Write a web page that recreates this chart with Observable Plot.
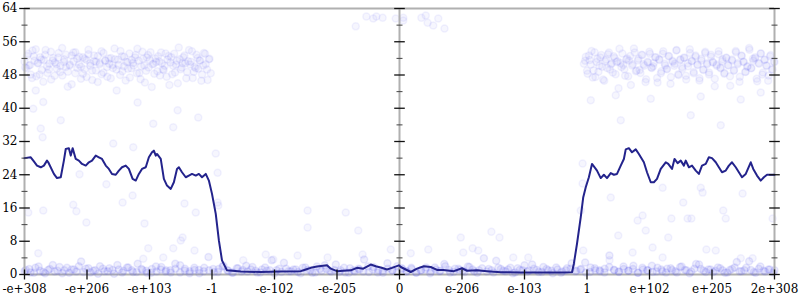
<!DOCTYPE html>
<html>
<head>
<meta charset="utf-8">
<script src="https://cdn.jsdelivr.net/npm/d3@7"></script>
<script src="https://cdn.jsdelivr.net/npm/@observablehq/plot@0.6"></script>
<style>
  html, body { margin: 0; padding: 0; background: #fff; }
  #chart svg, #chart svg text { font-family: "DejaVu Serif", serif !important; font-size: 12px; }
</style>
</head>
<body>
<div id="chart"></div>
<script>
// ---- tick positions and labels ----
const xTicks = [-6, -5, -4, -3, -2, -1, 0, 1, 2, 3, 4, 5, 6];
const xTickLabels = ["-e+308", "-e+206", "-e+103", "-1", "-e-102", "-e-205", "0", "e-206", "e-103", "1", "e+102", "e+205", "2e+308"];
const yMajor = [0, 8, 16, 24, 32, 40, 48, 56, 64];
const yMinor = [4, 12, 20, 28, 36, 44, 52, 60];
const axisLinesX = [-6, 0, 6];

// ---- moving-average line ----
const lineX = [-6.00,-5.90,-5.85,-5.80,-5.74,-5.69,-5.64,-5.62,-5.53,-5.48,-5.42,-5.37,-5.34,-5.29,-5.26,-5.23,-5.18,-5.13,-5.08,-5.02,-4.97,-4.92,-4.86,-4.81,-4.76,-4.70,-4.65,-4.60,-4.54,-4.49,-4.44,-4.38,-4.33,-4.27,-4.22,-4.17,-4.12,-4.06,-4.01,-3.96,-3.93,-3.90,-3.88,-3.82,-3.77,-3.72,-3.66,-3.61,-3.56,-3.53,-3.48,-3.42,-3.37,-3.32,-3.26,-3.21,-3.16,-3.10,-3.05,-3.00,-2.94,-2.89,-2.84,-2.76,-2.54,-2.22,-1.90,-1.58,-1.50,-1.42,-1.32,-1.16,-1.10,-1.00,-0.90,-0.78,-0.68,-0.58,-0.46,-0.38,-0.30,-0.20,-0.12,-0.01,0.02,0.18,0.28,0.39,0.50,0.60,0.70,0.87,1.00,1.08,1.24,1.40,1.62,1.94,2.26,2.58,2.76,2.79,2.84,2.90,2.94,2.98,3.03,3.08,3.14,3.16,3.22,3.27,3.32,3.38,3.43,3.48,3.54,3.59,3.62,3.67,3.72,3.78,3.83,3.91,3.96,4.02,4.07,4.12,4.18,4.26,4.30,4.36,4.40,4.45,4.50,4.55,4.58,4.63,4.68,4.74,4.79,4.84,4.90,4.95,5.00,5.06,5.11,5.16,5.22,5.27,5.32,5.38,5.43,5.48,5.54,5.62,5.66,5.72,5.78,5.83,5.88,5.96,6.00];
const lineY = [28.0,28.2,27.2,26.2,25.8,26.2,27.4,27.0,24.2,23.2,23.4,27.4,30.2,30.4,28.6,30.4,27.8,27.4,26.6,26.2,27.0,27.4,28.6,28.2,27.8,26.2,25.4,24.2,24.0,25.0,25.8,26.2,25.4,23.0,22.6,24.2,25.4,25.8,28.2,29.4,29.8,28.6,29.0,27.8,23.0,21.4,20.6,22.2,25.4,25.8,24.6,23.4,23.8,24.2,23.8,24.2,23.4,24.2,22.6,19.4,14.6,8.2,3.4,1.0,0.7,0.6,0.7,0.8,1.2,1.6,1.9,2.2,1.4,0.8,0.9,1.0,1.6,1.4,2.4,2.0,1.7,1.2,1.6,2.2,1.8,0.6,1.4,2.0,1.8,1.1,1.1,0.8,1.5,0.9,1.0,0.8,0.55,0.5,0.5,0.5,0.55,2.6,7.4,13.8,18.6,21.0,23.4,26.6,25.4,25.0,23.2,24.0,23.2,24.4,24.0,24.2,26.2,27.8,30.1,30.4,29.4,30.1,29.0,27.0,24.6,22.2,22.2,23.0,25.4,27.0,26.6,25.4,27.8,26.8,27.4,26.2,27.4,25.8,26.2,25.0,24.2,26.2,26.6,28.2,28.0,27.0,25.8,24.6,25.0,26.2,27.0,25.8,24.6,23.4,24.2,27.0,25.4,23.8,22.6,23.4,24.0,24.0,24.0];

// ---- dense sample bands (regularly sampled over their x range) ----
const topLeftRange = [-6, -3.02];
const topLeftY = [51.2,49.6,53.1,50.4,47.3,52.5,54.2,50.8,48.1,51.7,46.4,52.9,50.1,49.3,53.6,51.5,47.8,50.6,52.2,48.7,54.5,51.1,49.9,45.2,50.3,52.7,53.4,48.4,51.9,50.5,47.1,52.3,49.4,51.6,54.1,50.2,46.8,51.3,49.1,52.6,50.9,48.2,53.3,51.4,47.6,50.7,52.1,49.7,51.8,44.3,50.4,53.8,48.9,52.4,51.2,49.5,47.4,51.6,50.3,52.8,54.3,48.5,50.1,51.9,46.2,52.2,49.8,53.5,50.6,48.3,51.1,52.5,47.9,50.8,49.2,53.2,51.7,45.6,52.3,50.2,48.6,51.4,54.6,49.4,50.9,52.7,47.2,51.3,50.5,53.7,48.8,49.6,52.1,51.5,46.6,50.3,53.1,49.3,51.8,48.4];
const topLeftRange2 = [-5.99, -3.04];
const topLeftY2 = [49.8,52.6,50.3,48.1,53.9,51.4,47.7,50.9,52.3,49.2,51.6,54.0,48.5,50.7,46.9,52.1,51.0,49.5,53.3,50.2,47.9,51.8,52.9,48.8,50.5,45.8,51.3,53.5,49.7,52.4,50.0,48.3,51.9,47.5,53.0,50.8,49.1,52.7,51.2,46.3,50.6,53.7,48.6,51.5,49.9,52.0,47.2,50.4,54.4,49.3,51.7,48.0,52.5,50.1,46.7,51.1,53.2,49.6,50.9,52.2,48.4,51.4,47.0,53.6,50.3,49.0,52.8,51.6,45.1,50.7,52.0,48.9,51.3,53.4,49.4,50.2,47.6,52.6,51.0,48.2,53.1,50.5,46.0,51.8,49.8,52.3,50.8,48.7,54.0,51.2,47.3,50.0,52.9,49.5,51.5,48.1,53.3,50.6,46.8,51.9];
const topRightRange = [2.95, 6];
const topRightY = [50.7,52.4,48.3,51.6,53.8,49.1,47.5,51.9,50.2,52.8,46.9,51.3,49.7,53.4,50.5,48.6,52.1,51.1,44.8,50.9,53.2,49.4,51.7,47.7,52.6,50.3,54.4,48.9,51.5,49.2,52.9,50.6,46.3,51.2,53.6,49.8,50.1,52.3,47.3,51.8,48.4,53.1,50.7,49.5,52.5,45.9,51.4,50.2,53.9,48.2,51.6,49.9,52.2,47.8,50.8,54.2,51.3,48.7,52.7,50.4,46.7,51.9,49.3,53.3,50.6,48.1,52.4,51.1,47.1,50.5,53.7,49.6,51.8,48.5,52.1,50.3,45.4,51.5,49.2,53.5,50.9,47.6,52.6,51.2,48.8,50.1,54.1,49.7,51.4,52.3,46.5,50.7,53.2,48.6,51.7,50.2,47.9,52.8,49.4,51.1];
const topRightRange2 = [2.97, 5.99];
const topRightY2 = [51.4,49.0,52.7,50.5,47.4,53.5,51.1,48.8,52.2,50.0,46.6,51.7,53.0,49.3,50.8,52.5,48.2,51.3,54.3,49.9,50.4,47.8,52.0,51.5,45.6,50.6,53.4,49.1,51.9,48.5,52.8,50.2,47.0,51.0,53.1,49.7,50.9,52.3,46.2,51.6,48.9,53.7,50.3,49.4,52.6,47.5,51.2,50.7,54.0,48.0,51.8,49.5,52.1,46.9,50.1,53.3,51.4,48.4,52.4,50.5,47.2,51.5,49.2,53.6,50.8,48.6,52.9,51.0,45.3,50.2,53.0,49.8,51.3,48.3,52.2,50.4,47.7,51.7,49.0,53.8,50.6,46.4,52.7,51.1,48.7,50.0,54.5,49.6,51.9,52.0,47.1,50.9,53.2,48.1,51.6,50.3,46.6,52.5,49.3,51.2];
const bottomRange = [-6, 6];
const bottomY = [0.8,1.3,0.4,1.9,0.6,1.1,2.3,0.9,0.3,1.6,1.2,0.7,3.1,1.4,0.5,1.0,2.0,0.8,1.5,0.2,1.2,0.9,1.7,0.6,2.6,1.1,0.4,1.3,0.7,1.8,1.0,0.5,1.4,2.2,0.9,0.3,1.6,1.1,0.8,4.2,1.3,0.6,1.9,1.0,0.4,1.5,0.7,2.1,1.2,0.9,0.5,1.7,1.0,0.3,1.4,2.8,0.8,1.2,0.6,1.6,1.1,0.4,1.9,0.9,1.3,0.7,2.4,1.0,0.5,1.5,0.8,1.2,3.6,0.6,1.8,1.1,0.4,1.4,0.9,2.0,1.3,0.7,1.6,0.5,1.0,1.2,0.3,1.7,0.8,2.5,1.1,0.6,1.4,0.9,1.9,1.2,0.4,1.5,0.7,1.0,3.3,1.3,0.8,1.6,0.5,1.1,2.2,0.9,1.4,0.6,1.8,1.0,0.3,1.2,0.7,1.5,2.7,0.9,1.3,0.5,1.7,1.0,0.8,1.4,4.6,1.1,0.6,1.9,0.9,1.3,0.4,1.6,1.0,2.1,0.7,1.2,0.5,1.5,0.8,1.8,1.1,0.3,1.4,2.4,0.9,1.2,0.6,1.7,1.0,0.5,1.3,3.0,0.8,1.6,1.1,0.4,1.9,0.7,1.2,1.0];
const bottomRange2 = [-5.98, 5.98];
const bottomY2 = [1.1,0.5,1.6,0.9,0.3,1.3,0.7,1.8,1.0,0.4,1.2,2.0,0.6,1.5,0.9,0.2,1.4,0.8,1.1,2.3,0.5,1.7,1.0,0.6,1.3,0.9,0.4,1.9,1.2,0.7,1.0,2.6,0.5,1.4,0.8,1.1,0.3,1.6,1.0,0.6,1.3,2.1,0.9,0.4,1.5,1.1,0.7,1.8,0.5,1.2,0.9,3.4,1.0,0.6,1.4,0.8,1.2,0.3,1.7,1.0,0.5,1.3,2.2,0.9,1.1,0.6,1.6,0.4,1.0,1.4,0.7,1.9,1.2,0.5,0.9,2.7,1.1,0.6,1.5,0.8,1.3,0.4,1.0,1.7,0.7,1.2,0.9,2.0,0.5,1.4,1.1,0.6,1.8,0.8,1.0,3.9,1.3,0.5,1.6,0.9,1.2,0.3,1.5,1.0,0.7,2.4,1.1,0.6,1.3,0.9,1.7,0.4,1.0,1.4,0.8,1.2,2.9,0.6,1.5,1.0,0.5,1.8,1.1,0.7,1.3,0.9,2.1,0.4,1.2,1.0,0.6,1.6,0.8,1.4,1.1,0.5,1.9,1.0,0.7,2.5,1.3,0.6,1.2,0.9,1.5,0.4,1.1,1.7,0.8,1.0,3.2,0.6,1.4,0.9,1.2,0.5];

// ---- sparse samples ----
const sparseX = [-5.82,-5.70,-5.86,-5.74,-5.42,-5.71,-3.94,-3.62,-4.19,-3.55,-3.22,-4.58,-4.26,-5.94,-5.70,-5.22,-5.17,-5.01,-5.12,-4.69,-4.27,-4.43,-4.08,-4.02,-3.62,-3.47,-3.50,-3.44,-3.26,-3.28,-4.10,-5.78,-3.78,-2.94,-2.91,-2.91,-2.90,-1.47,-0.86,-1.47,-0.66,-0.14,-2.14,-1.63,-1.15,-0.59,-2.50,-2.02,-0.70,-0.53,-0.42,-0.37,-0.27,-0.06,0.06,0.06,0.35,0.42,0.45,0.54,0.62,0.72,0.18,0.46,0.98,1.47,1.60,1.17,1.26,1.02,1.82,2.06,2.93,2.93,2.90,2.94,3.38,3.81,3.89,4.21,4.54,4.35,4.61,4.67,4.82,4.85,5.18,5.22,5.49,5.97,3.94,3.50,4.30,4.05,3.73,4.91,5.06,3.36,4.21,5.46,5.65,3.06,3.46,4.02,4.82,5.46,5.78,4.66,3.54,5.14];
const sparseY = [44.3,41.5,39.9,35.1,37.1,33.0,36.3,35.4,41.4,39.5,37.8,31.5,30.6,14.9,15.4,16.8,15.2,12.5,24.1,21.7,19.0,17.3,12.3,6.3,6.3,8.9,8.2,17.1,14.9,5.8,3.8,5.1,4.1,29.1,24.5,17.3,16.6,15.4,14.9,11.3,10.6,6.0,4.8,4.6,4.1,4.8,3.4,3.6,59.7,62.1,61.6,62.1,61.8,61.6,61.8,61.1,61.8,62.3,60.6,59.9,61.6,59.2,5.1,6.0,8.9,10.3,8.9,6.3,5.8,5.3,4.1,4.1,26.7,21.9,15.4,5.8,18.5,13.0,14.2,20.9,17.3,13.5,13.5,13.5,20.9,19.7,15.4,13.5,19.5,13.5,10.6,9.4,8.9,6.5,5.3,6.0,5.8,3.4,4.1,3.9,3.9,41.9,43.1,42.3,42.8,42.1,43.8,38.3,37.1,35.9];

// ---- build tables ----
function band(range, ys) {
  const n = ys.length;
  return ys.map((y, i) => ({x: range[0] + (range[1] - range[0]) * i / (n - 1), y}));
}
const upperSamples = [
  ...band(topLeftRange, topLeftY),
  ...band(topLeftRange2, topLeftY2),
  ...band(topRightRange, topRightY),
  ...band(topRightRange2, topRightY2),
  ...sparseX.map((x, i) => ({x, y: sparseY[i]}))
];
const lowerSamples = [
  ...band(bottomRange, bottomY),
  ...band(bottomRange2, bottomY2)
];
const line = lineX.map((x, i) => ({x, y: lineY[i]}));

const hTick = {draw(ctx, size) { const r = Math.sqrt(size / Math.PI); ctx.moveTo(-r, 0); ctx.lineTo(r, 0); }};
const vTick = {draw(ctx, size) { const r = Math.sqrt(size / Math.PI); ctx.moveTo(0, -r); ctx.lineTo(0, r); }};

const majorTicks = axisLinesX.flatMap(x => yMajor.map(y => ({x, y})));
const minorTicks = axisLinesX.flatMap(x => yMinor.map(y => ({x, y})));

const chart = Plot.plot({
  width: 800,
  height: 300,
  marginLeft: 24,
  marginRight: 26,
  marginTop: 8,
  marginBottom: 26,
  x: {domain: [-6, 6]},
  y: {domain: [0, 64]},
  style: {fontFamily: "DejaVu Serif", fontSize: "12px", color: "black", background: "white"},
  marks: [
    Plot.ruleY([0, 64], {stroke: "#b0b0b0", strokeWidth: 2}),
    Plot.dot(upperSamples, {x: "x", y: "y", r: 3.5, fill: "#6a6af5", fillOpacity: 0.06, stroke: "#6a6af5", strokeOpacity: 0.08}),
    Plot.dot(lowerSamples, {x: "x", y: "y", r: 3.5, fill: "#5a5af0", fillOpacity: 0.1, stroke: "#5a5af0", strokeOpacity: 0.12}),
    Plot.ruleX(axisLinesX, {stroke: "#b0b0b0", strokeWidth: 2}),
    Plot.line(line, {x: "x", y: "y", stroke: "#23238c", strokeWidth: 2}),
    Plot.dot(minorTicks, {x: "x", y: "y", symbol: hTick, r: 3, fill: "none", stroke: "#444", strokeWidth: 1}),
    Plot.dot(majorTicks, {x: "x", y: "y", symbol: hTick, r: 5.3, fill: "none", stroke: "#111", strokeWidth: 1.3}),
    Plot.dot(xTicks, {x: d => d, y: () => 0, symbol: vTick, r: 5, fill: "none", stroke: "#111", strokeWidth: 1.3}),
    Plot.axisY(yMajor, {anchor: "left", tickSize: 0, tickPadding: 7, label: null}),
    Plot.axisX(xTicks, {anchor: "bottom", tickSize: 0, tickPadding: 10, label: null, tickFormat: d => xTickLabels[xTicks.indexOf(d)]})
  ]
});
document.getElementById("chart").appendChild(chart);
</script>
</body>
</html>
